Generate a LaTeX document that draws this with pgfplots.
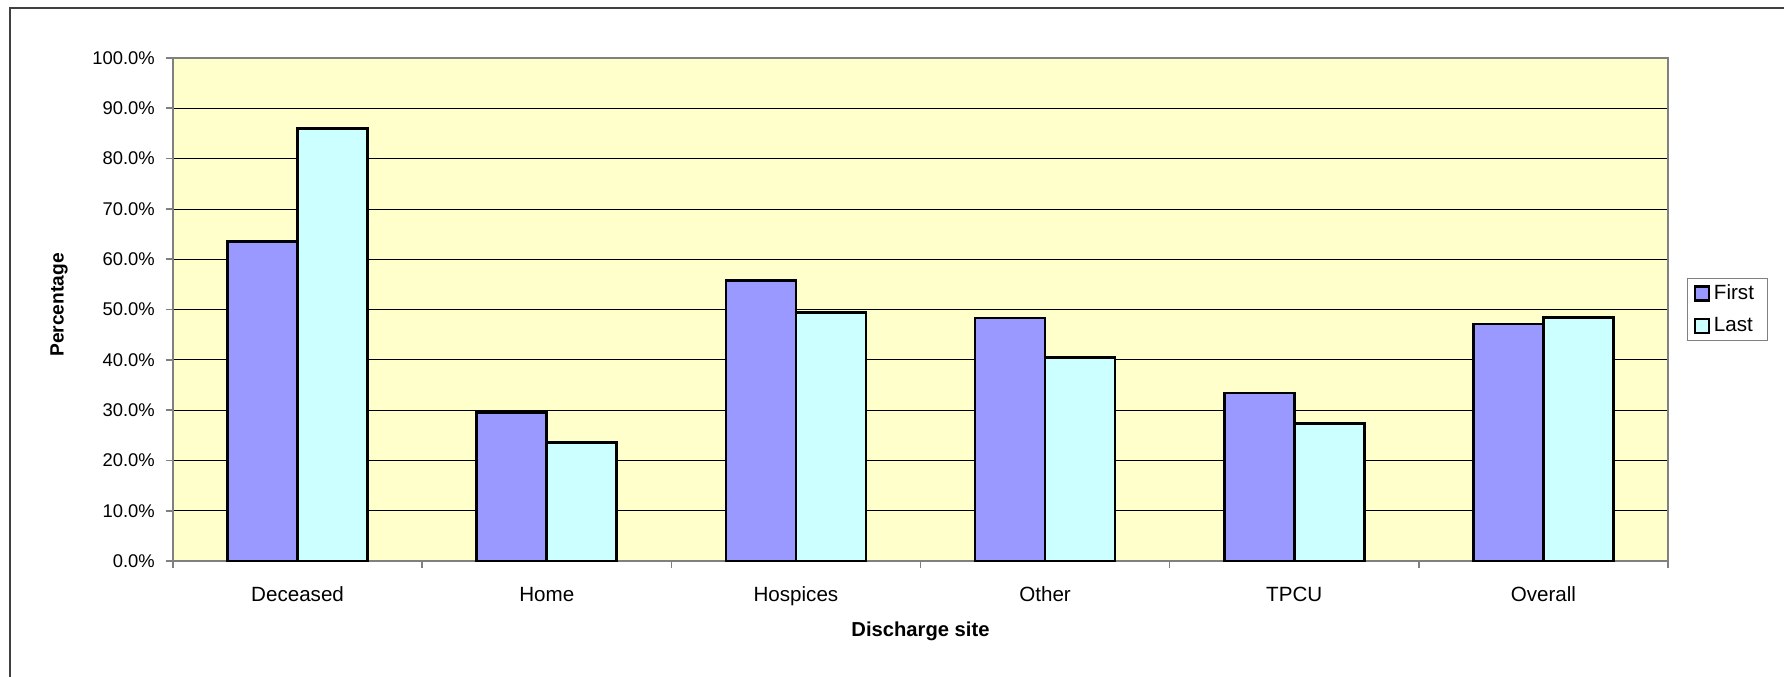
\documentclass[border=0pt]{standalone}
\usepackage{pgfplots}
\pgfplotsset{compat=1.18}
\usepackage{fontspec}
\setmainfont{Liberation Sans}
\definecolor{firstc}{HTML}{9999FF}
\definecolor{lastc}{HTML}{CCFFFF}
\definecolor{bgc}{HTML}{FFFFCC}
\begin{document}
\fontsize{10.3}{12.4}\selectfont
\begin{tikzpicture}
\useasboundingbox (-86.5pt,-57.5pt) rectangle (805.5pt,280.5pt);
\draw[line width=1pt, black!75] (-81.5pt,-60pt) -- (-81.5pt,276.5pt) -- (810pt,276.5pt);
\begin{axis}[
  at={(0,0)}, anchor=south west,
  scale only axis, width=747.5pt, height=251.5pt,
  ybar=0pt, bar width=35pt,
  xmin=-0.5, xmax=5.5, ymin=0, ymax=100,
  axis background/.style={fill=bgc},
  axis line style={draw=gray, line width=1pt},
  xtick={0,1,2,3,4,5},
  xticklabels={Deceased,Home,Hospices,Other,TPCU,Overall},
  typeset ticklabels with strut,
  major x tick style={draw=none},
  minor xtick={-0.5,0.5,1.5,2.5,3.5,4.5,5.5},
  minor x tick style={draw=gray, line width=0.8pt},
  minor tick length=3.5pt,
  ytick={0,10,...,100},
  yticklabel={\pgfmathprintnumber[fixed,fixed zerofill,precision=1]{\tick}\%},
  /pgf/number format/assume math mode=true,
  major y tick style={draw=gray, line width=0.8pt},
  major tick length=3.7pt,
  tick align=outside,
  xtick pos=bottom, ytick pos=left,
  ymajorgrids, major grid style={black, line width=0.4pt},
  xticklabel style={yshift=-4.4pt, font=\fontsize{10.3}{12.4}\selectfont},
  yticklabel style={xshift=-1.8pt, font=\fontsize{9.2}{11}\selectfont},
  xlabel={\bfseries Discharge site},
  ylabel={\bfseries Percentage},
  xlabel style={font=\fontsize{10.1}{12}\selectfont, at={(axis description cs:0.5,-0.139)}, anchor=center},
  ylabel style={font=\fontsize{9.6}{12}\selectfont, at={(axis description cs:-0.0763,0.509)}, anchor=center},
  legend style={at={(rel axis cs:1.0127,0.5)}, anchor=west, draw=gray, line width=0.6pt,
     font=\fontsize{10.3}{12.4}\selectfont, inner xsep=3pt, inner ysep=1pt, row sep=3.3pt,
     legend cell align=left},
  legend image code/.code={\draw[#1, draw=black, line width=1.2pt] (0pt,-3.5pt) rectangle (7pt,3.5pt);},
]
\addplot[fill=firstc, draw=black, line width=1.4pt] coordinates {(0,63.5) (1,29.5) (2,55.8) (3,48.3) (4,33.4) (5,47.1)};
\addplot[fill=lastc, draw=black, line width=1.4pt] coordinates {(0,86.0) (1,23.6) (2,49.4) (3,40.5) (4,27.3) (5,48.4)};
\legend{\makebox[21.7pt][l]{First},\makebox[21.7pt][l]{Last}}
\end{axis}
\end{tikzpicture}
\end{document}
